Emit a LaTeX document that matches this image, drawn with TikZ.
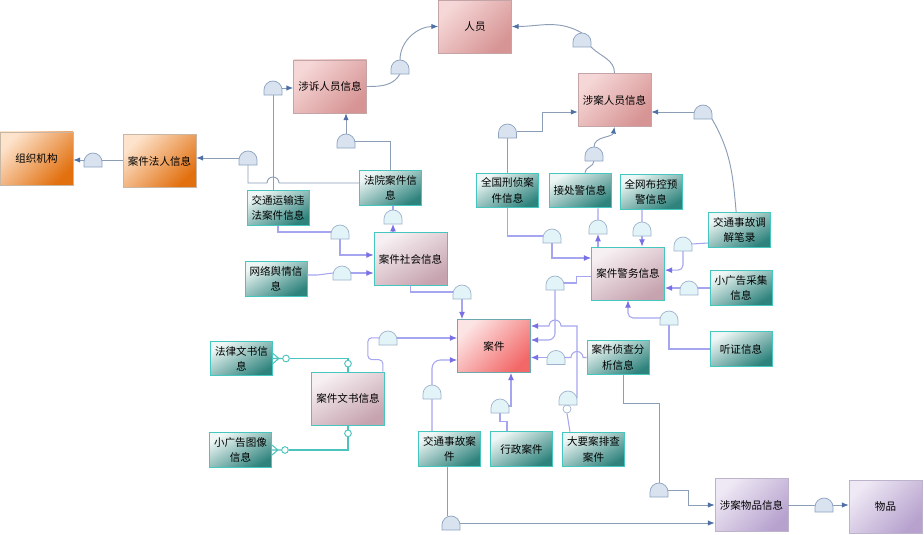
\documentclass[tikz,border=0pt]{standalone}
\usepackage{fontspec}
\newfontfamily\cjk{Noto Sans CJK SC}
\usepackage{tikz}
\usetikzlibrary{arrows.meta,calc}
\definecolor{pka}{HTML}{F6D7D7}\definecolor{pkb}{HTML}{D79494}\definecolor{pkd}{HTML}{C4A4A6}
\definecolor{oga}{HTML}{FDE3CC}\definecolor{ogb}{HTML}{E2700F}\definecolor{ogd}{HTML}{C9B7A5}
\definecolor{tla}{HTML}{EEF7F5}\definecolor{tlb}{HTML}{2F837D}\definecolor{tld}{HTML}{45C7BF}
\definecolor{mva}{HTML}{F7F0F2}\definecolor{mvb}{HTML}{C6A3AF}
\definecolor{rda}{HTML}{FDE4E4}\definecolor{rdb}{HTML}{F26868}\definecolor{rdd}{HTML}{6BA9AE}
\definecolor{ppa}{HTML}{EFE9F5}\definecolor{ppb}{HTML}{B7A2CE}\definecolor{ppd}{HTML}{BDB3CC}
\definecolor{gta}{HTML}{D9E3F0}\definecolor{gtd}{HTML}{8CA2C0}
\definecolor{gpa}{HTML}{E3F4F8}\definecolor{gpd}{HTML}{9DB3CC}
\definecolor{lns}{HTML}{8C9DB6}\definecolor{ars}{HTML}{4E70A6}
\definecolor{lnpc}{HTML}{A5A5F0}\definecolor{arp}{HTML}{7A70E6}
\definecolor{ercol}{HTML}{4CC3BC}
\tikzset{
  bx/.style={rectangle,minimum width=2.19cm,minimum height=1.59cm,inner sep=1pt,align=center,
    font=\cjk\fontsize{9}{13}\selectfont,line width=.6pt},
  sb/.style={bx,minimum width=1.86cm,minimum height=1.04cm},
  pk/.style={draw=pkd,top color=pka,bottom color=pkb,shading angle=45},
  og/.style={draw=ogd,top color=oga,bottom color=ogb,shading angle=45},
  tl/.style={draw=tld,top color=tla,bottom color=tlb,shading angle=30,line width=.8pt},
  mv/.style={draw=tld,top color=mva,bottom color=mvb,shading angle=30},
  rd/.style={draw=rdd,top color=rda,bottom color=rdb,shading angle=45},
  pp/.style={draw=ppd,top color=ppa,bottom color=ppb,shading angle=45},
  % a gate is an empty box; its dome is drawn over it afterwards
  gt/.style={rectangle,minimum width=.54cm,minimum height=.42cm,inner sep=0pt,outer sep=0pt},
  dome/.style={draw=gtd,fill=gta,line width=.6pt},
  domep/.style={draw=gpd,fill=gpa,line width=.6pt},
  ln/.style={draw=lns,line width=.8pt},
  arr/.style={ln,-{Latex[length=2mm,width=1.6mm,color=ars]}},
  lnp/.style={draw=lnpc,line width=.9pt},
  arrp/.style={lnp,-{Latex[length=2.2mm,width=1.8mm,color=arp]}},
  er/.style={draw=ercol,line width=.9pt},
  erdot/.style={circle,draw=ercol,fill=white,minimum size=.2cm,inner sep=0pt,line width=.8pt},
}
\begin{document}
\begin{tikzpicture}[x=.03cm,y=-.03cm]
\useasboundingbox (0,0) rectangle (924,535);
% persons and organisations
\node[bx,pk] (ry) at (475,26.5) {人员};
\node[bx,pk] (ss) at (330,86.5) {涉诉人员信息};
\node[bx,pk] (sa) at (614.5,100) {涉案人员信息};
\node[bx,og] (zz) at (36.5,158.5) {组织机构};
\node[bx,og] (fr) at (159.5,161) {案件法人信息};
% left group
\node[sb,tl] (jt) at (278,208) {交通运输违\\法案件信息};
\node[sb,tl] (fy) at (390.5,188) {法院案件信\\息};
\node[bx,mv] (sh) at (410.5,259) {案件社会信息};
\node[sb,tl] (wl) at (276,279) {网络舆情信\\息};
\node[bx,rd] (aj) at (494,346) {案件};
\node[sb,tl] (fl) at (241.5,358.5) {法律文书信\\息};
\node[bx,mv] (ws) at (348,398.5) {案件文书信息};
\node[sb,tl] (xt) at (240.5,450) {小广告图像\\信息};
% bottom row
\node[sb,tl] (jg) at (449.5,449) {交通事故案\\件};
\node[sb,tl] (xz) at (521.5,449) {行政案件};
\node[sb,tl] (dy) at (593.5,449.5) {大要案排查\\案件};
\node[sb,tl] (zc) at (618,357.5) {案件侦查分\\析信息};
% right group
\node[bx,mv] (jw) at (628,273.5) {案件警务信息};
\node[sb,tl] (qg) at (507.5,190.5) {全国刑侦案\\件信息};
\node[sb,tl] (jc) at (580,190.5) {接处警信息};
\node[sb,tl] (qw) at (651,192) {全网布控预\\警信息};
\node[sb,tl] (tj) at (739.5,230) {交通事故调\\解笔录};
\node[sb,tl] (xg) at (741,288) {小广告采集\\信息};
\node[sb,tl] (tz) at (741,349) {听证信息};
\node[bx,pp] (wp) at (751.5,505) {涉案物品信息};
\node[bx,pp] (wu) at (885.5,506.5) {物品};
% gates
\foreach \n/\x/\y in {g1/400/67,g2/582/40,g3/93/160,g4/248/158,g5/273/88,g6/346/141,
  g7/507.5/131,g8/594/154,g9/703/112,g10/340/232,g11/342/273,g12/393/217,g13/462/292,
  g14/388/338,g15/432/392,g16/500/406,g17/568/398,g18/555/283,g19/556/357.5,
  g20/659/490,g21/451/523,g22/824/505,g23/552/236,g24/598/227,g25/642/229,
  g26/683/244,g27/689/288,g28/669/318}
  \node[gt] (\n) at (\x,\y) {};
\node[circle,draw=gpd,minimum size=.24cm,inner sep=0pt,line width=.6pt] (k17) at (567,409) {};
% steel links
\draw[ln] (ss.east) to[out=0,in=-120] (g1.south);
\draw[arr] (g1.north) to[out=90,in=180] (ry.west);
\draw[ln] (sa.north) to[out=90,in=-45] (g2.south east);
\draw[arr] (g2.north) to[out=150,in=0] (ry.east);
\draw[ln] (g3.east -| fr.west) -- (g3.east);
\draw[arr] (g3.west) -- (g3.west -| zz.east);
\draw[ln] ([yshift=.15cm]fy.west) -- (279,183) arc[start angle=0,end angle=180,radius=.18cm]
  -- (g4.south |- 0,183) -- (g4.south);
\draw[arr] (g4.west) -- (g4.west -| fr.east);
\draw[ln] ([xshift=-.15cm]jt.north) -- (g5.south);
\draw[arr] (g5.east) -- (g5.east -| ss.west);
\draw[ln] (fy.north) |- (g6.east);
\draw[arr] (g6.north) -- (g6.north |- ss.south);
\draw[ln] (qg.north) -- (g7.south);
\draw[arr] (g7.east) -- (542,131) -- (542,112) -- (sa.west |- 0,112);
\draw[ln] ([xshift=.15cm]jc.north) to[out=90,in=-90] (g8.south);
\draw[arr] (g8.north) to[out=90,in=-100] (sa.south);
\draw[ln] ([xshift=-.1cm]tj.north) to[out=95,in=-60] (g9.south east);
\draw[arr] (g9.west) -- (g9.west -| sa.east);
\draw[ln] ([xshift=.15cm]zc.south) -- ++(0,-.84cm) -| (g20.north);
\draw[arr] (g20.east) -- ++(.6cm,0) |- (wp.west);
\draw[ln] ([xshift=-.075cm]jg.south) -- ([xshift=-.075cm]jg.south |- g21.north);
\draw[arr] (g21.east) -- (g21.east -| wp.west);
\draw[ln] (wp.east) -- (g22.west);
\draw[arr] (g22.east) -- (g22.east -| wu.west);
% purple links into the case
\draw[lnp] (jt.south) |- (g10.west);
\draw[arrp] (g10.south) |- ([yshift=.12cm]sh.west);
\draw[lnp] ([yshift=.12cm]wl.east) -- ++(.3cm,0) -- (g11.west);
\draw[arrp] (g11.east) -- (g11.east -| sh.west);
\draw[arrp] (g12.south |- sh.north) -- (g12.south);
\draw[lnp] (g12.north) -- (g12.north |- fy.south);
\draw[lnp] (sh.south) |- (g13.west);
\draw[arrp] (g13.south) -- (g13.south |- aj.north);
\draw[lnp,rounded corners=.12cm] ([xshift=-.06cm]ws.north east) -- ++(0,.36cm) -- ++(-.45cm,0)
  -- ++(0,.66cm) -- (g14.west);
\draw[arrp] (g14.east) -- (g14.east -| aj.west);
\draw[lnp] ([xshift=-.525cm]jg.north) -- (g15.south);
\draw[arrp,rounded corners=.25cm] (g15.north) |- ([yshift=-.42cm]aj.west);
\draw[lnp] ([xshift=-.435cm]xz.north) -- ++(0,.3cm) -| (g16.south);
\draw[arrp] (g16.east) -| ([xshift=.51cm]aj.south);
\draw[lnp] ([xshift=-.705cm]dy.north) -- (k17.south);
\draw[arrp] (g17.east) -- (577,326) -- (561,326) arc[start angle=0,end angle=180,radius=.18cm]
  -- (aj.east |- 0,326);
\draw[lnp] ([yshift=-.1cm]jw.west) -- ++(-.45cm,0) |- (g18.east);
\draw[arrp,rounded corners=.2cm] (g18.south) |- ([yshift=.18cm]aj.east);
\draw[lnp] (zc.west) -- (583,357.5) arc[start angle=0,end angle=180,radius=.18cm] -- (g19.east);
\draw[arrp] (g19.west) -- (g19.west -| aj.east);
% purple links into the police info
\draw[lnp] (qg.south) |- (g23.west);
\draw[arrp] (g23.south) |- ([yshift=.465cm]jw.west);
\draw[lnp] ([xshift=.54cm]jc.south) -- (g24.north);
\draw[arrp] (g24.south |- jw.north) -- (g24.south);
\draw[lnp] ([xshift=-.27cm]qw.south) -- (g25.north);
\draw[arrp] (g25.south) -- (g25.south |- jw.north);
\draw[lnp] ([yshift=-.39cm]tj.west) -- (g26.east);
\draw[arrp,rounded corners=.15cm] (g26.south) |- ([yshift=.1cm]jw.east);
\draw[lnp] (xg.west) -- (g27.east);
\draw[arrp] (g27.west) -- (g27.west -| jw.east);
\draw[lnp] (tz.west) -| (g28.south);
\draw[arrp,rounded corners=.15cm] (g28.west) -| (jw.south);
% domes
\foreach \g in {g1,g2,g3,g4,g5,g6,g7,g8,g9,g20,g21,g22}
  \draw[dome] (\g.south west) -- ++(0,.15cm) arc[start angle=180,end angle=0,radius=.27cm]
    -- (\g.south east) -- cycle;
\foreach \g in {g10,g11,g12,g13,g14,g15,g16,g17,g18,g19,g23,g24,g25,g26,g27,g28}
  \draw[domep] (\g.south west) -- ++(0,.15cm) arc[start angle=180,end angle=0,radius=.27cm]
    -- (\g.south east) -- cycle;
% documents, crow's feet
\node[erdot] (c1) at ([xshift=.39cm]fl.east) {};
\node[erdot] (c2) at ([yshift=.24cm]ws.north) {};
\node[erdot] (c3) at ([xshift=.39cm]xt.east) {};
\node[erdot] (c4) at ([yshift=-.24cm]ws.south) {};
\draw[er] (c1.east) -| (c2.north) (c2.south) -- (ws.north);
\draw[er] (c3.east) -| (c4.south) (c4.north) -- (ws.south);
\draw[er] (fl.east) -- (c1.west) ([yshift=.15cm]fl.east) -- ([xshift=-.1cm]c1.west)
  ([yshift=-.15cm]fl.east) -- ([xshift=-.1cm]c1.west);
\draw[er] (xt.east) -- (c3.west) ([yshift=.15cm]xt.east) -- ([xshift=-.1cm]c3.west)
  ([yshift=-.15cm]xt.east) -- ([xshift=-.1cm]c3.west);
\end{tikzpicture}
\end{document}
